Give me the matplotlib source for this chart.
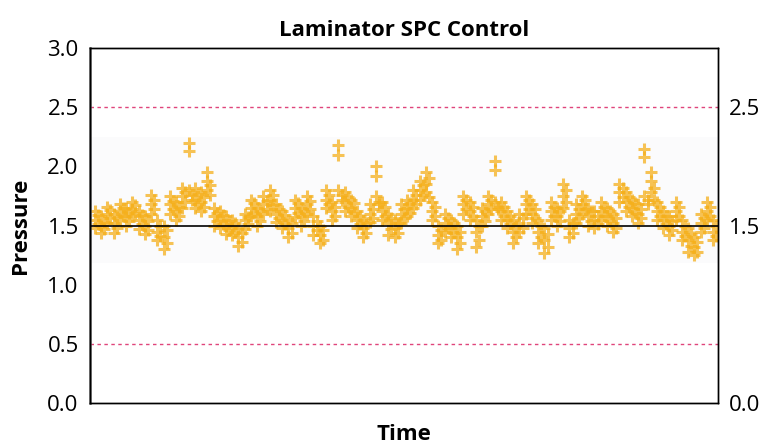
import numpy as np
import matplotlib.pyplot as plt

plt.rcParams['font.family'] = ['Open Sans', 'DejaVu Sans']

# five readings per time point, from highest to lowest
sample_a = [1.62, 1.58, 1.66, 1.60, 1.68, 1.65, 1.70, 1.62, 1.58, 1.76,
            1.55, 1.50, 1.75, 1.70, 1.82, 2.20, 1.82, 1.78, 1.95, 1.65,
            1.62, 1.58, 1.55, 1.48, 1.60, 1.72, 1.65, 1.75, 1.80, 1.68,
            1.62, 1.55, 1.72, 1.65, 1.75, 1.58, 1.50, 1.80, 1.70, 2.18,
            1.78, 1.72, 1.62, 1.55, 1.68, 2.00, 1.70, 1.60, 1.55, 1.68,
            1.72, 1.80, 1.88, 1.95, 1.70, 1.50, 1.60, 1.55, 1.50, 1.75,
            1.70, 1.55, 1.65, 1.75, 2.05, 1.70, 1.62, 1.55, 1.60, 1.75,
            1.68, 1.55, 1.48, 1.70, 1.65, 1.85, 1.55, 1.68, 1.75, 1.65,
            1.62, 1.70, 1.65, 1.60, 1.85, 1.78, 1.72, 1.68, 2.15, 1.95,
            1.70, 1.62, 1.58, 1.70, 1.55, 1.48, 1.40, 1.60, 1.70, 1.55]
sample_d = [1.59, 1.53, 1.63, 1.57, 1.65, 1.61, 1.67, 1.59, 1.54, 1.72,
            1.50, 1.46, 1.71, 1.66, 1.78, 1.76, 1.77, 1.74, 1.84, 1.61,
            1.59, 1.54, 1.52, 1.44, 1.57, 1.69, 1.62, 1.71, 1.76, 1.64,
            1.59, 1.52, 1.69, 1.62, 1.71, 1.54, 1.46, 1.76, 1.66, 1.76,
            1.74, 1.69, 1.58, 1.52, 1.64, 1.70, 1.66, 1.56, 1.52, 1.64,
            1.69, 1.76, 1.84, 1.90, 1.66, 1.46, 1.56, 1.52, 1.45, 1.72,
            1.66, 1.50, 1.62, 1.72, 1.66, 1.66, 1.58, 1.50, 1.56, 1.72,
            1.64, 1.50, 1.43, 1.66, 1.62, 1.80, 1.52, 1.64, 1.72, 1.62,
            1.58, 1.66, 1.62, 1.56, 1.82, 1.74, 1.69, 1.64, 1.72, 1.82,
            1.66, 1.58, 1.54, 1.66, 1.50, 1.43, 1.36, 1.56, 1.66, 1.50]
sample_b = [1.55, 1.50, 1.60, 1.52, 1.62, 1.58, 1.64, 1.55, 1.50, 1.68,
            1.45, 1.40, 1.68, 1.62, 1.75, 2.13, 1.72, 1.70, 1.88, 1.58,
            1.55, 1.50, 1.48, 1.40, 1.55, 1.65, 1.58, 1.68, 1.72, 1.60,
            1.55, 1.48, 1.65, 1.58, 1.68, 1.50, 1.42, 1.72, 1.62, 2.10,
            1.70, 1.65, 1.55, 1.48, 1.60, 1.92, 1.62, 1.52, 1.48, 1.60,
            1.65, 1.72, 1.80, 1.85, 1.62, 1.42, 1.52, 1.48, 1.40, 1.68,
            1.62, 1.45, 1.58, 1.68, 1.97, 1.62, 1.55, 1.45, 1.52, 1.68,
            1.60, 1.45, 1.38, 1.62, 1.58, 1.75, 1.48, 1.60, 1.68, 1.58,
            1.55, 1.62, 1.58, 1.52, 1.78, 1.70, 1.65, 1.60, 2.08, 1.88,
            1.62, 1.55, 1.50, 1.62, 1.45, 1.38, 1.32, 1.52, 1.62, 1.45]
sample_e = [1.51, 1.47, 1.56, 1.48, 1.58, 1.54, 1.61, 1.51, 1.46, 1.64,
            1.41, 1.35, 1.64, 1.58, 1.70, 1.72, 1.68, 1.66, 1.76, 1.54,
            1.51, 1.46, 1.45, 1.36, 1.51, 1.61, 1.54, 1.64, 1.67, 1.56,
            1.51, 1.44, 1.61, 1.54, 1.64, 1.46, 1.38, 1.68, 1.58, 1.72,
            1.66, 1.61, 1.51, 1.44, 1.56, 1.68, 1.58, 1.47, 1.44, 1.56,
            1.61, 1.68, 1.76, 1.74, 1.58, 1.38, 1.48, 1.44, 1.35, 1.64,
            1.58, 1.38, 1.54, 1.64, 1.64, 1.58, 1.51, 1.40, 1.48, 1.64,
            1.56, 1.40, 1.32, 1.58, 1.54, 1.70, 1.44, 1.56, 1.64, 1.54,
            1.51, 1.58, 1.54, 1.48, 1.74, 1.66, 1.61, 1.56, 1.68, 1.72,
            1.58, 1.51, 1.46, 1.58, 1.41, 1.33, 1.28, 1.48, 1.58, 1.41]
sample_c = [1.48, 1.44, 1.52, 1.44, 1.55, 1.50, 1.58, 1.47, 1.43, 1.60,
            1.38, 1.30, 1.60, 1.55, 1.65, 1.80, 1.65, 1.62, 1.80, 1.50,
            1.48, 1.43, 1.42, 1.33, 1.47, 1.58, 1.50, 1.60, 1.62, 1.53,
            1.48, 1.40, 1.57, 1.50, 1.60, 1.42, 1.35, 1.65, 1.55, 1.80,
            1.62, 1.58, 1.48, 1.40, 1.53, 1.75, 1.55, 1.42, 1.40, 1.52,
            1.58, 1.65, 1.72, 1.78, 1.55, 1.35, 1.45, 1.40, 1.30, 1.60,
            1.55, 1.32, 1.50, 1.60, 1.70, 1.55, 1.48, 1.35, 1.45, 1.60,
            1.52, 1.35, 1.27, 1.55, 1.50, 1.65, 1.40, 1.52, 1.60, 1.50,
            1.48, 1.55, 1.50, 1.45, 1.70, 1.62, 1.58, 1.52, 1.75, 1.78,
            1.55, 1.48, 1.42, 1.55, 1.38, 1.28, 1.25, 1.45, 1.55, 1.38]

center_line = 1.5
upper_limit = 2.5
lower_limit = 0.5
left_ticks = [0.0, 0.5, 1.0, 1.5, 2.0, 2.5, 3.0]
right_ticks = [0.0, 1.5, 2.5]

t = np.arange(len(sample_a))
t_mid = t + 0.5   # the in-between readings are taken half a step later

fig = plt.figure(figsize=(7.68, 4.46), dpi=100)
ax = fig.add_axes([0.117, 0.0964, 0.818, 0.7956])

ax.axhspan(1.18, 2.25, color='#fbfbfc', zorder=0, lw=0)
for x, s in ((t, sample_a), (t_mid, sample_d), (t, sample_b), (t_mid, sample_e), (t, sample_c)):
    ax.plot(x, s, linestyle='none', marker='+', markersize=9, markeredgewidth=2.2,
            color='#f5b01c', alpha=0.75, zorder=2)

ax.axhline(center_line, color='black', lw=1.2, zorder=3)
ax.axhline(upper_limit, color='#e0457b', lw=1, ls=(0, (2.5, 2.5)), zorder=1)
ax.axhline(lower_limit, color='#e0457b', lw=1, ls=(0, (2.5, 2.5)), zorder=1)

ax.set_xlim(-0.8, len(t) - 0.2)
ax.set_ylim(0, 3.0)
ax.set_xticks([])
ax.set_yticks(left_ticks)
ax.set_yticklabels(['%.1f' % v for v in left_ticks])
ax.tick_params(axis='y', length=0, labelsize=16, pad=8)

ax2 = ax.twinx()
ax2.set_ylim(0, 3.0)
ax2.set_yticks(right_ticks)
ax2.set_yticklabels(['%.1f' % v for v in right_ticks])
ax2.tick_params(axis='y', length=0, labelsize=16, pad=8)

for a in (ax, ax2):
    for sp in a.spines.values():
        sp.set_linewidth(1)
ax.spines['left'].set_color('#555555')
ax.spines['left'].set_linewidth(1.8)

ax.set_title('Laminator SPC Control', fontsize=16, fontweight='bold', pad=9)
ax.set_xlabel('Time', fontsize=16, fontweight='bold', labelpad=15)
ax.set_ylabel('Pressure', fontsize=16, fontweight='bold', labelpad=12)

fig.savefig('out.png', dpi=100)
